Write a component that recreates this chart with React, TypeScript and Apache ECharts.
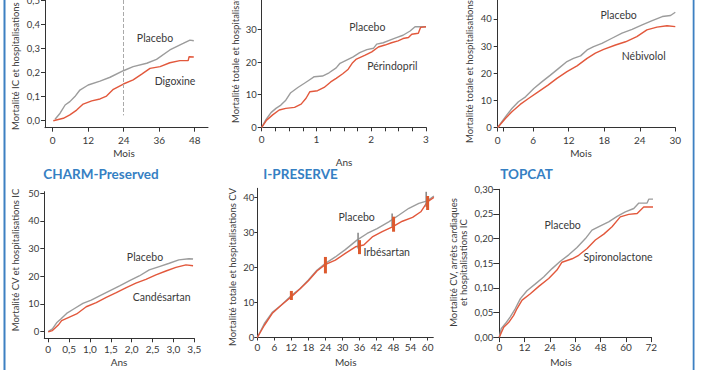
import React, { useEffect, useRef } from "react";
import * as echarts from "echarts";

const FONT = "Lato, 'Open Sans', sans-serif";
const GRAY = "#9c9c9c";
const RED = "#e2583c";
const AXIS = "#333333";
const TEXT = "#3a3a3a";
const BLUE = "#3580c3";

// ---- DIG-Preserved (months, rate) ----
const digPlacebo = [[0.8,0.006],[2.5,0.031],[4.2,0.065],[5.8,0.079],[7.5,0.1],[9.2,0.127],[12,0.148],[16,0.164],[19.4,0.18],[23.9,0.207],[27.2,0.224],[31.8,0.238],[35.1,0.254],[39.6,0.293],[44.1,0.32],[46.4,0.334],[47.7,0.331]];
const digDigoxine = [[0.2,0],[3.6,0.01],[5.8,0.024],[8.1,0.044],[10.3,0.069],[13.2,0.082],[16,0.09],[18.2,0.102],[20.5,0.13],[23.9,0.152],[27.2,0.169],[30.1,0.193],[32.9,0.217],[36.3,0.224],[39.6,0.24],[43,0.249],[45.8,0.249],[46.1,0.265],[47.7,0.264]];
const digXLabels = [0, 12, 24, 36, 48];
const digYLabels = [0, 0.1, 0.2, 0.3, 0.4, 0.5];

// ---- PEP-CHF (years, %) ----
const pepPlacebo = [[0,0],[0.08,2.4],[0.17,4.5],[0.26,5.8],[0.35,6.8],[0.44,8.3],[0.53,10.6],[0.66,12.2],[0.78,13.5],[0.87,14.5],[0.96,15.5],[1.11,15.7],[1.23,16.7],[1.36,18.2],[1.43,19.6],[1.55,20.6],[1.67,21.6],[1.79,22.9],[1.92,23.8],[2.04,24.2],[2.1,25.5],[2.22,25.9],[2.34,26.7],[2.46,27.5],[2.58,28.2],[2.71,29.5],[2.8,30.8],[3.0,30.8]];
const pepPerindopril = [[0,0],[0.09,2.2],[0.2,3.8],[0.32,5.3],[0.44,5.8],[0.6,6.1],[0.72,7.1],[0.81,8.9],[0.88,10.9],[1.02,11.2],[1.14,12.2],[1.26,13.9],[1.36,15],[1.48,16.4],[1.58,17.8],[1.66,19.8],[1.72,20.8],[1.89,22.1],[2.01,23.1],[2.13,24.6],[2.25,25.2],[2.37,25.9],[2.49,26.5],[2.58,27.2],[2.68,27.5],[2.74,28.5],[2.86,28.8],[2.9,30.6],[3.0,30.8]];
const pepXLabels = [0, 1, 2, 3];
const pepXTicks = [0, 0.25, 0.5, 0.75, 1, 1.25, 1.5, 1.75, 2, 2.25, 2.5, 2.75, 3];
const pepYLabels = [0, 10, 20, 30];

// ---- SENIORS (months, %) ----
const senPlacebo = [[0,0],[1.3,3.9],[2.4,7],[3.5,9.5],[4.7,11.3],[6.1,14.4],[7.5,16.9],[8.9,19.3],[10.3,21.8],[11.7,24.3],[12.8,25.5],[14,26.4],[15.1,28.6],[16.2,29.8],[17.6,31],[19.3,32.9],[21,34.8],[22.7,36.2],[24.4,37.8],[26.1,39.4],[27.8,40.9],[29.2,41.3],[30,42.5]];
const senNebivolol = [[0,0],[1.3,3.3],[2.4,5.8],[3.8,8.5],[5.2,10.7],[6.9,13.2],[8.5,15.6],[10,18.1],[11.7,20.6],[13.4,22.7],[15.1,25.5],[16.5,27.4],[17.9,28.8],[19.9,30.4],[21.6,31.6],[23.5,33.5],[25.2,36],[26.9,37],[28.6,37.5],[30,37.2]];
const senXLabels = [0, 6, 12, 18, 24, 30];
const senXTicks = [0, 1, 6, 12, 18, 24, 30];
const senYLabels = [0, 10, 20, 30, 40];

// ---- CHARM-Preserved (years, %) ----
const charmPlacebo = [[0,0],[0.1,1],[0.2,3.2],[0.3,4.6],[0.44,6.6],[0.6,8.1],[0.83,10.2],[1.03,11.4],[1.23,12.9],[1.47,14.7],[1.71,16.5],[1.95,18.4],[2.18,20.1],[2.42,22.3],[2.66,23.5],[2.9,24.7],[3.13,25.9],[3.37,26.3],[3.47,26.2]];
const charmCandesartan = [[0,0],[0.1,0.4],[0.24,2.4],[0.32,4],[0.44,4.8],[0.68,6.4],[0.91,9],[1.15,10.5],[1.39,12.4],[1.63,14.1],[1.87,15.9],[2.1,17.5],[2.34,18.9],[2.58,20.5],[2.82,21.9],[3.06,23.2],[3.3,24.1],[3.47,23.8]];
const charmXLabels = [0, 0.5, 1, 1.5, 2, 2.5, 3, 3.5];
const charmYLabels = [0, 10, 20, 30, 40, 50];

// ---- I-PRESERVE (months, %) ----
const ipPlacebo = [[0,0],[2.5,4],[5.4,7.3],[8.4,9.2],[12.2,12.1],[15.1,14],[18,16.4],[21,19.2],[23.9,21.1],[27.5,23],[31,25.1],[35.1,27.8],[38.7,29.7],[42.2,31.1],[46.3,33],[49.8,34.9],[53.4,36.9],[56.9,38.3],[59.9,39],[62.2,40.4]];
const ipIrbesartan = [[0,0],[2.5,3.5],[5.4,7],[8.4,9.2],[12.2,11.8],[15.1,13.9],[18,16.2],[21,19],[23.9,20.8],[27.5,22.1],[31,24],[34.6,25.9],[37.5,26.4],[40.5,28.7],[44,30.2],[47.6,31.6],[51.1,33.2],[54.7,34.3],[57.6,35.9],[59.9,38.7],[62.2,40]];
const ipCiRedMonths = [12, 24, 36, 48, 60];
const ipCiRedLow = [10.7, 18.3, 23.8, 30.2, 36.4];
const ipCiRedHigh = [13.3, 23, 27.8, 34.5, 40.4];
const ipCiGrayMonths = [35.5, 47.5, 59.5];
const ipCiGrayLow = [25.4, 31.6, 37.3];
const ipCiGrayHigh = [29.9, 35.4, 41.6];
const ipXLabels = [0, 6, 12, 18, 24, 30, 36, 42, 48, 54, 60];
const ipYLabels = [0, 10, 20, 30, 40];

// ---- TOPCAT (months, rate) ----
const topPlacebo = [[0,0],[0.9,0.017],[2.8,0.027],[5.2,0.041],[7.6,0.058],[10,0.078],[13.1,0.094],[17.1,0.108],[21,0.122],[25,0.139],[28.9,0.154],[32.9,0.167],[36.8,0.182],[40.8,0.2],[43.9,0.217],[47.9,0.226],[51.8,0.234],[55.8,0.245],[59.7,0.254],[63.7,0.261],[66.1,0.272],[70,0.272],[70.8,0.28],[75.5,0.28]];
const topSpiro = [[0,0],[2.1,0.02],[4.5,0.03],[6.8,0.044],[8.4,0.058],[10.8,0.075],[14.7,0.088],[18.7,0.103],[23.4,0.119],[27.3,0.136],[29.7,0.152],[34.5,0.159],[37.6,0.166],[41.6,0.18],[45.5,0.197],[49.5,0.209],[53.4,0.224],[57.3,0.244],[61.3,0.249],[65.3,0.251],[68.4,0.264],[75.5,0.264]];
const topXLabels = [0, 12, 24, 36, 48, 60, 72];
const topYLabels = [0, 0.05, 0.1, 0.15, 0.2, 0.25, 0.3];

const fmt1 = (v: number) => v.toFixed(1).replace(".", ",");
const fmt2 = (v: number) => v.toFixed(2).replace(".", ",");
const fmtHalf = (v: number) => (v === 0 ? "0" : v.toFixed(1).replace(".", ","));
const fmtInt = (v: number) => String(Math.round(v));

function xAxisOf(g: number, min: number, max: number, labels: number[], ticks: number[], fmt: any, margin: number, tickLen = 4) {
  return {
    type: "value", gridIndex: g, min, max,
    axisLine: { show: true, onZero: false, lineStyle: { color: AXIS, width: 1 } },
    axisTick: { show: true, length: tickLen, customValues: ticks, lineStyle: { color: AXIS, width: 1 } },
    axisLabel: { show: true, customValues: labels, formatter: fmt, margin, fontSize: 10, color: TEXT, fontFamily: FONT },
    splitLine: { show: false }, minorTick: { show: false },
  };
}
function yAxisOf(g: number, min: number, max: number, labels: number[], fmt: any, margin: number, tickLen = 4) {
  return {
    type: "value", gridIndex: g, min, max,
    axisLine: { show: true, onZero: false, lineStyle: { color: AXIS, width: 1 } },
    axisTick: { show: true, length: tickLen, customValues: labels, lineStyle: { color: AXIS, width: 1 } },
    axisLabel: { show: true, customValues: labels, formatter: fmt, margin, fontSize: 9.5, color: TEXT, fontFamily: FONT },
    splitLine: { show: false }, minorTick: { show: false },
  };
}
function line(g: number, data: number[][], color: string, z = 3, extra: any = {}) {
  return {
    type: "line", xAxisIndex: g, yAxisIndex: g, data, showSymbol: false, symbol: "none",
    clip: false, silent: true, z, lineStyle: { color, width: 1.4 }, itemStyle: { color }, ...extra,
  };
}
function ciSeries(g: number, months: number[], lo: number[], hi: number[], color: string, w: number, z: number) {
  return {
    type: "custom", xAxisIndex: g, yAxisIndex: g, clip: false, silent: true, z,
    data: months.map((m, i) => [m, lo[i], hi[i]]),
    renderItem: (_p: any, api: any) => {
      const a = api.coord([api.value(0), api.value(1)]);
      const b = api.coord([api.value(0), api.value(2)]);
      return { type: "rect", shape: { x: a[0] - w / 2, y: b[1], width: w, height: a[1] - b[1] }, style: { fill: color } };
    },
  };
}
function txt(x: number, y: number, text: string, size = 10.5, extra: any = {}) {
  return { type: "text", x, y, silent: true, z: 10, style: { text, fontSize: size, fontFamily: FONT, fill: TEXT, align: "center", verticalAlign: "middle", ...extra } };
}
function vtxt(x: number, y: number, text: string, align = "center") {
  return { type: "text", x, y, rotation: Math.PI / 2, silent: true, z: 10, style: { text, fontSize: 9.5, fontFamily: FONT, fill: TEXT, align, verticalAlign: "middle" } };
}
function title(x: number, y: number, text: string) {
  return { type: "text", x, y, silent: true, z: 10, style: { text, fontSize: 13.5, fontWeight: "bold", fontFamily: FONT, fill: BLUE, align: "left", verticalAlign: "middle" } };
}

export default function App() {
  const ref = useRef<HTMLDivElement>(null);
  useEffect(() => {
    if (!ref.current) return;
    const chart = echarts.init(ref.current, null, { renderer: "svg" });
    const grids = [
      { left: 45, top: 0, width: 163, height: 127.7 },
      { left: 261.7, top: 0, width: 164.3, height: 127.3 },
      { left: 497.7, top: 0, width: 177.6, height: 127.5 },
      { left: 44.3, top: 191.7, width: 150, height: 146.6 },
      { left: 257.3, top: 188.3, width: 176, height: 149.2 },
      { left: 499.3, top: 189.3, width: 152, height: 147.8 },
    ].map((g) => ({ ...g, containLabel: false, outerBoundsMode: "none", show: false }));

    const option: any = {
      animation: false,
      backgroundColor: "#ffffff",
      grid: grids,
      xAxis: [
        xAxisOf(0, -2.6, 52.5, digXLabels, digXLabels, fmtInt, 7),
        xAxisOf(1, 0, 3, pepXLabels, pepXTicks, fmtInt, 7),
        xAxisOf(2, 0, 30, senXLabels, senXTicks, fmtInt, 7),
        xAxisOf(3, -0.095, 3.5, charmXLabels, charmXLabels, fmtHalf, 6),
        xAxisOf(4, 0, 62, ipXLabels, ipXLabels, fmtInt, 4, 3),
        xAxisOf(5, 0, 72, topXLabels, topXLabels, fmtInt, 5, 5),
      ],
      yAxis: [
        yAxisOf(0, -0.029, 0.5, digYLabels, fmt1, 5),
        yAxisOf(1, 0, 39, pepYLabels, fmtInt, 5),
        yAxisOf(2, 0, 47, senYLabels, fmtInt, 6),
        yAxisOf(3, -2.38, 50.5, charmYLabels, fmtInt, 5),
        yAxisOf(4, 0, 42.6, ipYLabels, fmtInt, 3, 3),
        yAxisOf(5, 0, 0.3, topYLabels, fmt2, 6, 6),
      ],
      series: [
        line(0, digPlacebo, GRAY, 3, {
          markLine: {
            silent: true, symbol: "none", label: { show: false },
            lineStyle: { type: "dashed", color: "#aaaaaa", width: 1 },
            data: [[{ coord: [24, 0.5] }, { coord: [24, 0.022] }]],
          },
        }),
        line(0, digDigoxine, RED, 4),
        line(1, pepPlacebo, GRAY, 3),
        line(1, pepPerindopril, RED, 4),
        line(2, senPlacebo, GRAY, 3),
        line(2, senNebivolol, RED, 4),
        line(3, charmPlacebo, GRAY, 3),
        line(3, charmCandesartan, RED, 4),
        line(4, ipPlacebo, GRAY, 3),
        line(4, ipIrbesartan, RED, 4),
        ciSeries(4, ipCiGrayMonths, ipCiGrayLow, ipCiGrayHigh, "#8a8a8a", 1.6, 5),
        ciSeries(4, ipCiRedMonths, ipCiRedLow, ipCiRedHigh, "#dd5a2e", 3, 6),
        line(5, topPlacebo, GRAY, 3),
        line(5, topSpiro, RED, 4),
      ],
      graphic: [
        { type: "rect", x: 3.5, y: 0, shape: { width: 2, height: 370 }, style: { fill: "#3d80c2" }, silent: true },
        { type: "rect", x: 692.7, y: 0, shape: { width: 1.8, height: 370 }, style: { fill: "#3d80c2" }, silent: true },
        title(43.3, 174, "CHARM-Preserved"),
        title(263.3, 174, "I-PRESERVE"),
        title(500.3, 174, "TOPCAT"),
        txt(155, 38, "Placebo"), txt(175, 81, "Digoxine"),
        txt(367.3, 27.3, "Placebo"), txt(392.3, 66.3, "Périndopril"),
        txt(618.7, 15, "Placebo"), txt(643.7, 56, "Nébivolol"),
        txt(145, 256.7, "Placebo"), txt(161.7, 297.3, "Candésartan"),
        txt(356.7, 217.3, "Placebo"), txt(386.7, 251.7, "Irbésartan"),
        txt(562.7, 225, "Placebo"), txt(618, 257.3, "Spironolactone"),
        txt(124, 153, "Mois", 10), txt(344, 162, "Ans", 10), txt(581, 153.3, "Mois", 10),
        txt(119, 361.7, "Ans", 10), txt(345.7, 362.3, "Mois", 10), txt(561, 362.3, "Mois", 10),
        vtxt(15, 130, "Mortalité IC et hospitalisations IC", "left"),
        vtxt(235, 123, "Mortalité totale et hospitalisations IC", "left"),
        vtxt(469, 143, "Mortalité totale et hospitalisations CV", "left"),
        vtxt(15, 260, "Mortalité CV et hospitalisations IC"),
        vtxt(232.3, 267, "Mortalité totale et hospitalisations CV"),
        vtxt(453, 262.5, "Mortalité CV, arrêts cardiaques"),
        vtxt(463.5, 262.5, "et hospitalisations IC"),
      ],
    };
    chart.setOption(option);
    return () => chart.dispose();
  }, []);
  return <div ref={ref} style={{ position: "absolute", left: 0, top: 0, width: 702, height: 370 }} />;
}
